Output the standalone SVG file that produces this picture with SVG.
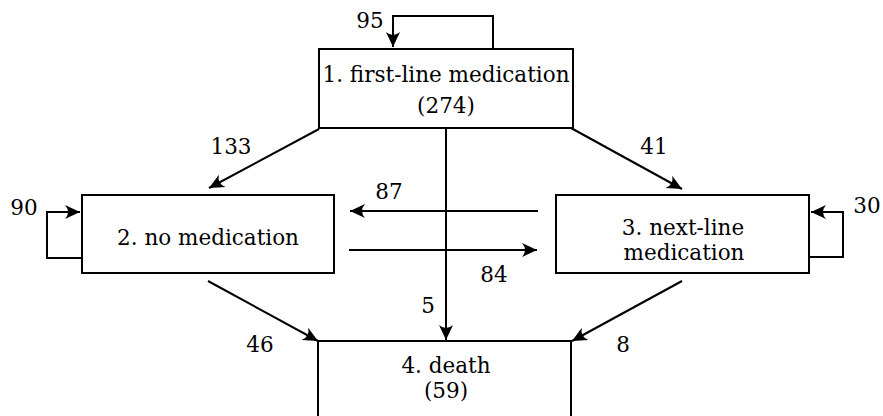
<svg xmlns="http://www.w3.org/2000/svg" width="883" height="416" viewBox="0 0 883 416">
<style>
.box{fill:#fff;stroke:#000;stroke-width:2}
.ln{fill:none;stroke:#000;stroke-width:2}
text{font-family:'DejaVu Serif','Liberation Serif','Times New Roman',serif;font-size:21.5px;fill:#000;text-anchor:middle}
</style>
<defs>
<marker id="ah" markerUnits="userSpaceOnUse" markerWidth="18" markerHeight="16" viewBox="-16 -8 18 16" refX="0" refY="0" orient="auto">
<path d="M0,0 L-15,-7 Q-9,0 -15,7 Z" fill="#000"/>
</marker>
</defs>
<rect width="883" height="416" fill="#fff"/>
<g id="connectors">
<path class="ln" d="M493,49 V16 H393 V47" marker-end="url(#ah)"/>
<path class="ln" d="M82,258 H47 V212 H80" marker-end="url(#ah)"/>
<path class="ln" d="M809,257 H843 V212 H811" marker-end="url(#ah)"/>
<line class="ln" x1="319" y1="129" x2="209" y2="188" marker-end="url(#ah)"/>
<line class="ln" x1="571" y1="128" x2="682" y2="189" marker-end="url(#ah)"/>
<line class="ln" x1="538" y1="211" x2="350" y2="211" marker-end="url(#ah)"/>
<line class="ln" x1="349" y1="250" x2="537" y2="250" marker-end="url(#ah)"/>
<line class="ln" x1="446" y1="128" x2="446" y2="340" marker-end="url(#ah)"/>
<line class="ln" x1="208" y1="281" x2="318" y2="341" marker-end="url(#ah)"/>
<line class="ln" x1="682" y1="281" x2="572" y2="341" marker-end="url(#ah)"/>
<text x="370" y="28">95</text>
<text x="24" y="215">90</text>
<text x="867" y="213">30</text>
<text x="231" y="154">133</text>
<text x="654" y="154">41</text>
<text x="389" y="199">87</text>
<text x="494" y="282">84</text>
<text x="428" y="313">5</text>
<text x="260" y="352">46</text>
<text x="623" y="352">8</text>
</g>
<g id="n1">
<rect class="box" x="319" y="49" width="254" height="79"/>
<text x="446" y="82">1. first-line medication</text>
<text x="446" y="113">(274)</text>
</g>
<g id="n2">
<rect class="box" x="82" y="195" width="252" height="78"/>
<text x="208" y="245">2. no medication</text>
</g>
<g id="n3">
<rect class="box" x="556" y="195" width="253" height="78"/>
<text x="683" y="235">3. next-line</text>
<text x="684" y="260">medication</text>
</g>
<g id="n4">
<rect class="box" x="318" y="341" width="253" height="90"/>
<text x="446" y="373">4. death</text>
<text x="446" y="398">(59)</text>
</g>
</svg>
